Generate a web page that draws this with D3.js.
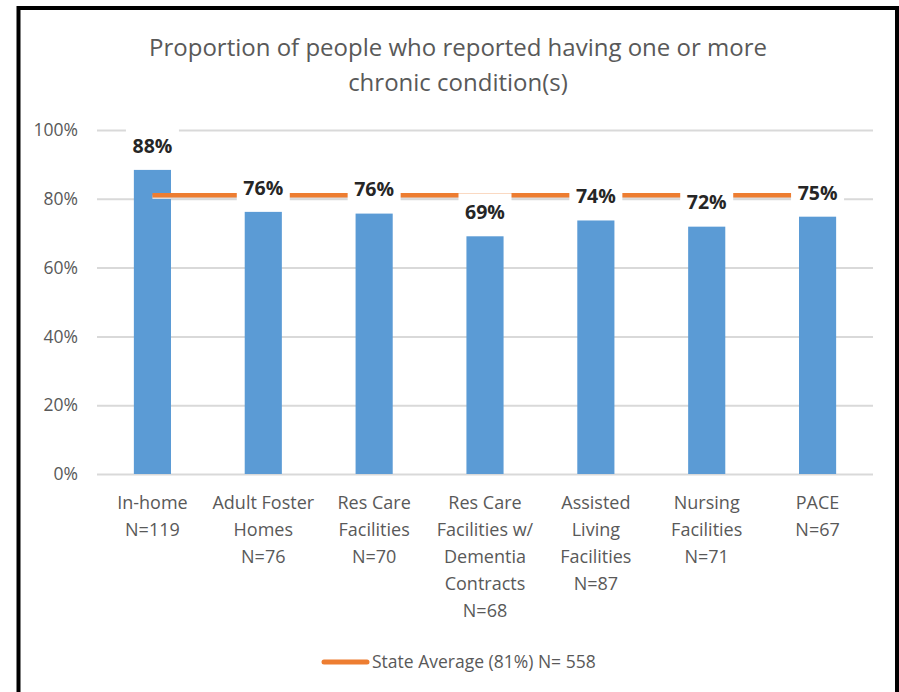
<!DOCTYPE html>
<html>
<head>
<meta charset="utf-8">
<script src="https://cdn.jsdelivr.net/npm/d3@7"></script>
<style>
  html, body { margin: 0; padding: 0; background: #ffffff; }
  svg { display: block; }
  text { font-family: "Open Sans", "Liberation Sans", sans-serif; }
</style>
</head>
<body>
<script>
// Proportion of people reporting one or more chronic conditions, by setting
const categories = [
  ["In-home", "N=119"],
  ["Adult Foster", "Homes", "N=76"],
  ["Res Care", "Facilities", "N=70"],
  ["Res Care", "Facilities w/", "Dementia", "Contracts", "N=68"],
  ["Assisted", "Living", "Facilities", "N=87"],
  ["Nursing", "Facilities", "N=71"],
  ["PACE", "N=67"]
];
const values = [0.884, 0.762, 0.757, 0.691, 0.737, 0.719, 0.748];
const stateAverage = 0.81;
const stateN = 558;
const yTicks = [0, 0.2, 0.4, 0.6, 0.8, 1.0];
const titleLines = ["Proportion of people who reported having one or more", "chronic condition(s)"];

const W = 899, H = 692;
const svg = d3.select("body").append("svg").attr("width", W).attr("height", H);

// chart frame
svg.append("rect")
  .attr("x", 18.5).attr("y", 8).attr("width", 878.5).attr("height", H + 20)
  .attr("fill", "#ffffff").attr("stroke", "#000000").attr("stroke-width", 4);

const plot = { left: 97, right: 873, top: 130, bottom: 474 };

const x = d3.scaleBand()
  .domain(d3.range(categories.length))
  .range([plot.left, plot.right])
  .paddingInner(0.665).paddingOuter(0.3325);

const y = d3.scaleLinear().domain([0, 1]).range([plot.bottom, plot.top]);

// title
svg.append("g").selectAll("text").data(titleLines).join("text")
  .attr("x", 458).attr("y", (d, i) => 56 + i * 35)
  .attr("text-anchor", "middle")
  .attr("font-size", 24).attr("fill", "#595959")
  .text(d => d);

// gridlines and value axis
const yAxis = d3.axisLeft(y).tickValues(yTicks).tickFormat(d3.format(".0%"))
  .tickSize(-(plot.right - plot.left)).tickPadding(19);
const gy = svg.append("g").attr("transform", `translate(${plot.left},0)`).call(yAxis);
gy.select(".domain").remove();
gy.selectAll(".tick line").attr("stroke", "#d9d9d9").attr("stroke-width", 2);
gy.selectAll(".tick text").attr("fill", "#595959").attr("font-size", 17.5)
  .attr("font-family", "Open Sans, Liberation Sans, sans-serif");

// bars
const cx = i => x(i) + x.bandwidth() / 2;
svg.append("g").selectAll("rect").data(values).join("rect")
  .attr("x", (d, i) => x(i)).attr("width", x.bandwidth())
  .attr("y", d => y(d)).attr("height", d => y(0) - y(d))
  .attr("fill", "#5b9bd5");

// state average line, with soft shadow
const avgLine = d3.line().x(d => d[0]).y(d => d[1]);
const avgPts = [[cx(0), y(stateAverage)], [cx(categories.length - 1), y(stateAverage)]];
svg.append("path").attr("d", avgLine(avgPts.map(p => [p[0], p[1] + 2])))
  .attr("stroke", "#dcdcdc").attr("stroke-width", 3.5).attr("fill", "none");
svg.append("path").attr("d", avgLine(avgPts))
  .attr("stroke", "#ed7d31").attr("stroke-width", 4.5).attr("fill", "none");

// data labels on white boxes
const fmt = d3.format(".0%");
const labels = svg.append("g").selectAll("g").data(values).join("g")
  .attr("transform", (d, i) => `translate(${cx(i)},${y(d) - 24})`);
labels.append("rect")
  .attr("x", -26.5).attr("y", -19).attr("width", 53).attr("height", 36)
  .attr("fill", "#ffffff");
labels.append("text")
  .attr("text-anchor", "middle").attr("dy", "0.35em")
  .attr("font-size", 19.5).attr("font-weight", "bold").attr("fill", "#262626")
  .text(d => fmt(d));

// category labels
const cat = svg.append("g").selectAll("text").data(categories).join("text")
  .attr("text-anchor", "middle").attr("font-size", 18).attr("fill", "#595959");
cat.selectAll("tspan").data((d, i) => d.map(t => ({ t, i }))).join("tspan")
  .attr("x", d => cx(d.i)).attr("y", (d, j) => 509 + j * 27)
  .text(d => d.t);

// legend
const lg = svg.append("g").attr("transform", "translate(322,662)");
lg.append("line").attr("x1", 2).attr("x2", 45).attr("y1", 0).attr("y2", 0)
  .attr("stroke", "#ed7d31").attr("stroke-width", 5).attr("stroke-linecap", "round");
lg.append("text").attr("x", 50).attr("y", 0).attr("dy", "0.35em")
  .attr("font-size", 17.5).attr("fill", "#595959")
  .text(`State Average (${fmt(stateAverage)}) N= ${stateN}`);
</script>
</body>
</html>
